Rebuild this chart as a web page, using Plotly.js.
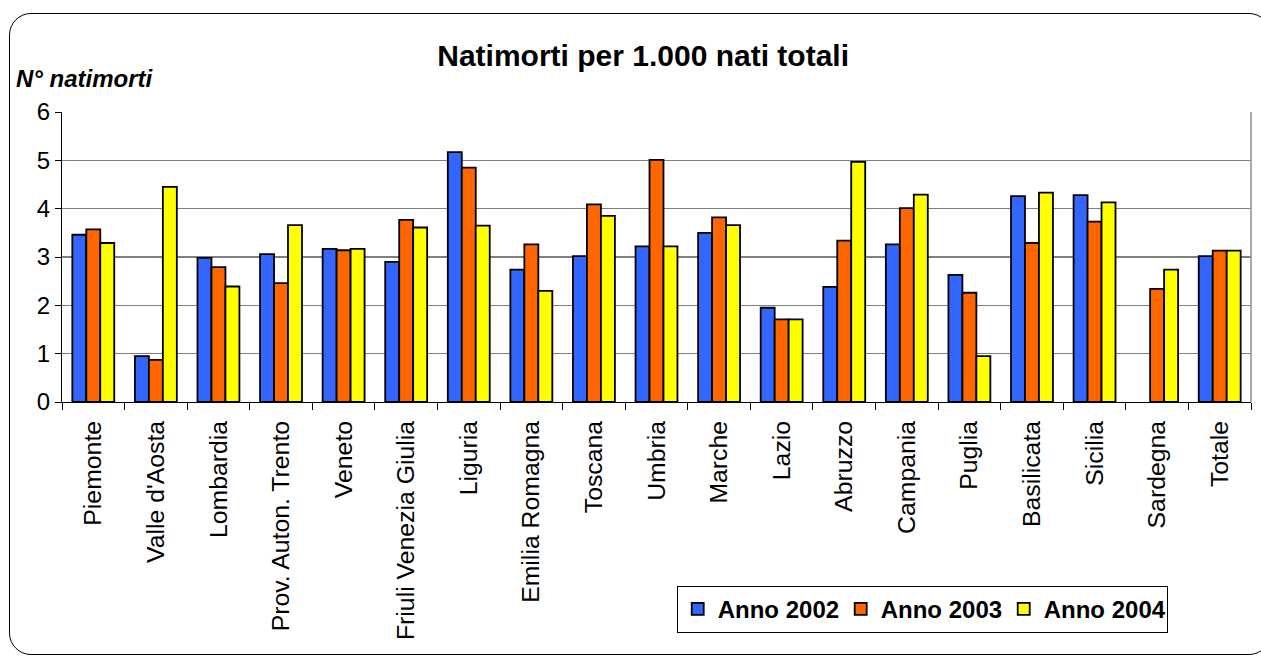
<!DOCTYPE html>
<html>
<head>
<meta charset="utf-8">
<script src="https://cdn.plot.ly/plotly-3.0.1.min.js"></script>
<style>
html,body{margin:0;padding:0;background:#fff;}
#wrap{position:relative;width:1261px;height:657px;overflow:hidden;}
#chart{position:absolute;left:0;top:0;width:1261px;height:657px;}
#frame{position:absolute;left:9px;top:13px;width:1262px;height:642px;border:1.5px solid #000;border-radius:22px;pointer-events:none;box-sizing:border-box;}
</style>
</head>
<body>
<div id="wrap">
<div id="chart"></div>
<div id="frame"></div>
</div>
<script>
const categories = ["Piemonte","Valle d'Aosta","Lombardia","Prov. Auton. Trento","Veneto","Friuli Venezia Giulia","Liguria","Emilia Romagna","Toscana","Umbria","Marche","Lazio","Abruzzo","Campania","Puglia","Basilicata","Sicilia","Sardegna","Totale"];
const anno2002 = [3.46,0.95,2.98,3.06,3.17,2.90,5.17,2.74,3.02,3.22,3.50,1.95,2.38,3.26,2.63,4.26,4.28,null,3.02];
const anno2003 = [3.57,0.87,2.79,2.46,3.14,3.77,4.85,3.26,4.09,5.01,3.82,1.71,3.34,4.01,2.26,3.29,3.73,2.34,3.13];
const anno2004 = [3.29,4.45,2.39,3.66,3.17,3.61,3.65,2.30,3.85,3.22,3.66,1.71,4.97,4.29,0.95,4.33,4.13,2.74,3.13];
const seriesNames = ["Anno 2002","Anno 2003","Anno 2004"];
const seriesColors = ["#3366FF","#FF6600","#FFFF00"];
const yTicks = [0,1,2,3,4,5,6];

const font = "Liberation Sans, Arial, sans-serif";
const data = [anno2002, anno2003, anno2004].map((vals,i)=>({
  type:"bar",
  name: seriesNames[i],
  x: categories,
  y: vals,
  marker:{color:seriesColors[i], line:{color:"#000", width:1.8}},
  hoverinfo:"x+y+name"
}));

const layout = {
  width:1261, height:657,
  margin:{l:62, r:10, t:112, b:255},
  paper_bgcolor:"#fff", plot_bgcolor:"#fff",
  barmode:"group", bargap:0.33, bargroupgap:0,
  font:{family:font, color:"#000"},
  title:{text:"<b>Natimorti per 1.000 nati totali</b>", font:{family:font, size:30, color:"#000"}, x:0.51, xanchor:"center", y:0.915, yanchor:"middle"},
  xaxis:{
    type:"category", tickangle:-90, tickfont:{family:font, size:24.8, color:"#000"},
    showline:true, linecolor:"#000", linewidth:1,
    ticks:"outside", tickson:"boundaries", ticklen:7, tickcolor:"#000", tickwidth:1,
    ticklabelstandoff:8,
    showgrid:false, zeroline:false, range:[-0.5, categories.length-0.5], fixedrange:true
  },
  yaxis:{
    range:[0,6], tickvals:yTicks, ticktext:yTicks.map(String),
    tickfont:{family:font, size:24, color:"#000"},
    showline:true, linecolor:"#000", linewidth:1,
    ticks:"outside", ticklen:6, tickcolor:"#000", tickwidth:1,
    showgrid:true, gridcolor:"#7f7f7f", gridwidth:1.2, zeroline:false, fixedrange:true
  },
  showlegend:true,
  legend:{
    orientation:"h", x:0.517, xanchor:"left", y:-0.634, yanchor:"top",
    bordercolor:"#000", borderwidth:1, bgcolor:"#fff",
    font:{family:font, size:24, color:"#000", weight:"bold"},
    traceorder:"normal", itemwidth:30, entrywidth:118, entrywidthmode:"pixels"
  },
  shapes:[
    {type:"line", xref:"paper", yref:"paper", x0:1, x1:1, y0:0, y1:1, line:{color:"#8c8c8c", width:1.5}}
  ],
  annotations:[
    {text:"<b><i>N° natimorti</i></b>", xref:"paper", yref:"paper", x:-0.04, y:1.115, xanchor:"left", yanchor:"middle", showarrow:false, font:{family:font, size:24, color:"#000"}}
  ]
};

Plotly.newPlot("chart", data, layout, {displayModeBar:false, staticPlot:true});
</script>
</body>
</html>
